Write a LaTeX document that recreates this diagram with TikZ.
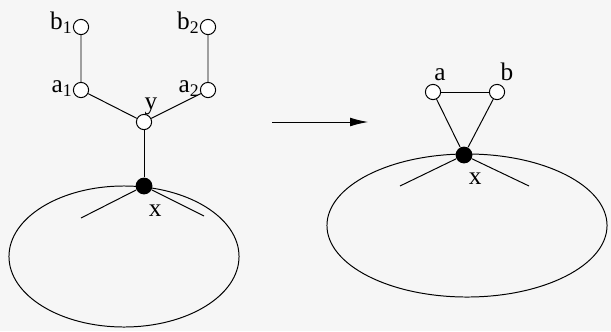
\documentclass[tikz,border=0pt]{standalone}
\usepackage{fontspec}
\setmainfont{Liberation Serif}
\usetikzlibrary{arrows.meta,positioning}
\tikzset{
  ures/.style={circle,draw,fill=white,inner sep=0pt,minimum size=0.38cm},
  pont/.style={circle,fill,inner sep=0pt,minimum size=0.42cm},
  cimke/.style={inner sep=1pt},
  nyil/.style={-{Latex[length=4.5mm,width=2.2mm]}},
}

\begin{document}
\begin{tikzpicture}[x=0.025cm,y=0.025cm,line width=0.7pt,font=\fontsize{18}{21}\selectfont]
  \fill[gray!7] (0,0) rectangle (611,331);
  \useasboundingbox (0,0) rectangle (611,331);
  % left graph
  \draw (124,74.5) ellipse [x radius=2.875cm,y radius=1.7625cm];
  \node[pont] (x) at (144,145) {};
  \node[ures] (y) at (144,209) {};
  \node[ures] (a1) at (81,241) {}; \node[ures] (b1) at (81,304) {};
  \node[ures] (a2) at (208,241) {}; \node[ures] (b2) at (208,304) {};
  \coordinate (s1) at (81,113); \coordinate (s2) at (204,115);
  \draw (x) -- (y); \draw (y) -- (a1) -- (b1); \draw (y) -- (a2) -- (b2);
  \draw (x) -- (s1); \draw (x) -- (s2);
  \node[cimke,left=-1pt of a1,yshift=1pt] (la1) {a\textsubscript{1}};
  \node[cimke,left=-1pt of b1,yshift=3pt] (lb1) {b\textsubscript{1}};
  \node[cimke,left=-1pt of a2,yshift=1pt] (la2) {a\textsubscript{2}};
  \node[cimke,left=-1pt of b2,yshift=3pt] (lb2) {b\textsubscript{2}};
  \node[cimke,above=-2pt of y,xshift=5pt] (ly) {y};
  \node[cimke,below=6pt of x,xshift=8pt] (lx) {x};
  % arrow
  \coordinate (n1) at (272,209); \coordinate (n2) at (368,209);
  \draw[nyil,line width=0.6pt] (n1) -- (n2);
  % right graph
  \draw (467,105.5) ellipse [x radius=3.5cm,y radius=1.7875cm];
  \node[pont] (xx) at (464,176) {};
  \node[ures] (a) at (433,239) {}; \node[ures] (b) at (497,239) {};
  \coordinate (t1) at (400,145); \coordinate (t2) at (529,145);
  \draw (a) -- (b); \draw (a) -- (xx); \draw (b) -- (xx);
  \draw (xx) -- (t1); \draw (xx) -- (t2);
  \node[cimke,above=1pt of a,xshift=5pt] (la) {a};
  \node[cimke,above=1pt of b,xshift=7pt] (lb) {b};
  \node[cimke,below=5pt of xx,xshift=8pt] (lxx) {x};
\end{tikzpicture}
\end{document}
